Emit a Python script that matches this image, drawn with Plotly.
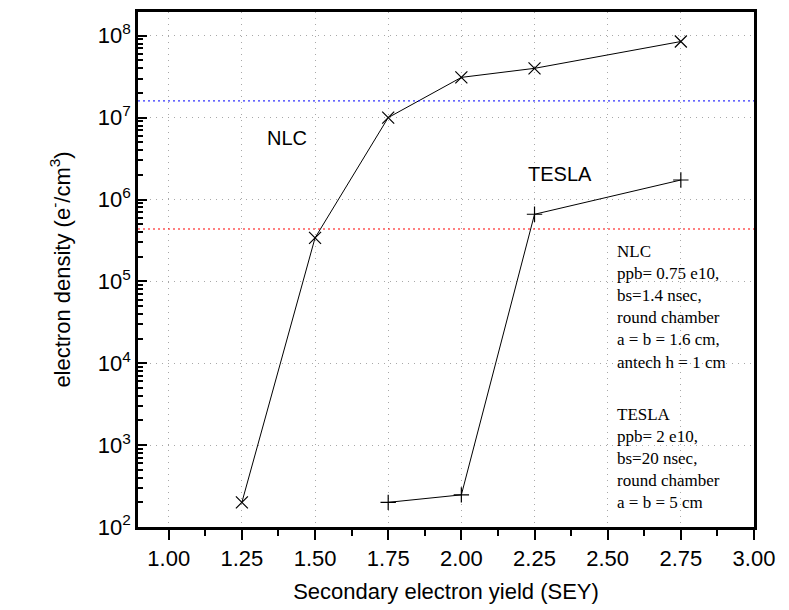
import plotly.graph_objects as go

# Data
sey = [1.25, 1.50, 1.75, 2.00, 2.25, 2.75]
nlc_density = [200, 3.4e5, 1.0e7, 3.1e7, 4.0e7, 8.5e7]
tesla_sey = [1.75, 2.00, 2.25, 2.75]
tesla_density = [200, 247, 6.6e5, 1.73e6]
nlc_threshold = 1.6e7
tesla_threshold = 4.36e5

y_tickvals = [1e2, 1e3, 1e4, 1e5, 1e6, 1e7, 1e8]
y_ticktext = ["10<sup>%d</sup>" % p for p in range(2, 9)]

nlc_info = ["NLC", "ppb= 0.75 e10,", "bs=1.4 nsec,", "round chamber",
            "a = b = 1.6 cm,", "antech h = 1 cm"]
tesla_info = ["TESLA", "ppb= 2 e10,", "bs=20 nsec,", "round chamber",
              "a = b = 5 cm"]

fig = go.Figure()
fig.add_trace(go.Scatter(
    x=sey, y=nlc_density, mode="lines+markers", name="NLC",
    line=dict(color="black", width=1),
    marker=dict(symbol="x-thin", size=12, line=dict(color="black", width=1.2)),
))
fig.add_trace(go.Scatter(
    x=tesla_sey, y=tesla_density, mode="lines+markers", name="TESLA",
    line=dict(color="black", width=1),
    marker=dict(symbol="cross-thin", size=11, line=dict(color="black", width=1.2)),
))

fig.add_shape(type="line", xref="paper", yref="y", x0=0, x1=1,
              y0=nlc_threshold, y1=nlc_threshold,
              line=dict(color="blue", width=1, dash="2px,3px"))
fig.add_shape(type="line", xref="paper", yref="y", x0=0, x1=1,
              y0=tesla_threshold, y1=tesla_threshold,
              line=dict(color="red", width=1, dash="2px,3px"))

fig.add_annotation(x=1.405, y=6.752, text="NLC", showarrow=False,
                   font=dict(family="Liberation Sans, Arial", size=20, color="black"))
fig.add_annotation(x=2.338, y=6.315, text="TESLA", showarrow=False,
                   font=dict(family="Liberation Sans, Arial", size=20, color="black"))

serif = dict(family="Liberation Serif, Times New Roman", size=17, color="black")
fig.add_annotation(x=2.527, xanchor="left", xref="x", y=0.556, yref="paper",
                   yanchor="top", align="left", showarrow=False,
                   text="<br>".join(nlc_info), font=serif, borderpad=0)
fig.add_annotation(x=2.527, xanchor="left", xref="x", y=0.238, yref="paper",
                   yanchor="top", align="left", showarrow=False,
                   text="<br>".join(tesla_info), font=serif, borderpad=0)

axis_font = dict(family="Liberation Sans, Arial", size=22, color="black")
grid_color = "#a8a8a8"
fig.update_layout(
    width=789, height=610,
    margin=dict(l=138, r=35, t=9, b=83),
    paper_bgcolor="white", plot_bgcolor="white",
    showlegend=False,
    font=axis_font,
    xaxis=dict(
        range=[0.895, 3.0], tick0=1.0, dtick=0.25, tickformat=".2f",
        ticks="outside", ticklen=10, tickwidth=1.5, tickcolor="black",
        showline=True, linecolor="black", linewidth=2.5, mirror=True,
        showgrid=True, gridcolor=grid_color, griddash="1px,5px", gridwidth=1,
        zeroline=False,
        minor=dict(dtick=0.125, ticks="outside", ticklen=6, tickwidth=1.5,
                   tickcolor="black", showgrid=False),
        tickfont=axis_font,
        title=dict(text="Secondary electron yield (SEY)", font=axis_font, standoff=14),
    ),
    yaxis=dict(
        type="log", range=[2, 8.29],
        tickvals=y_tickvals, ticktext=y_ticktext,
        ticks="inside", ticklen=9, tickwidth=2, tickcolor="black",
        showline=True, linecolor="black", linewidth=2.5, mirror=True,
        showgrid=True, gridcolor=grid_color, griddash="1px,5px", gridwidth=1,
        zeroline=False,
        minor=dict(ticks="inside", ticklen=5, tickwidth=1.5, tickcolor="black",
                   dtick="D1", showgrid=False),
        tickfont=axis_font,
        title=dict(text="electron density (e<sup>-</sup>/cm<sup>3</sup>)",
                   font=axis_font, standoff=22),
    ),
)

fig.write_html("out.html")
